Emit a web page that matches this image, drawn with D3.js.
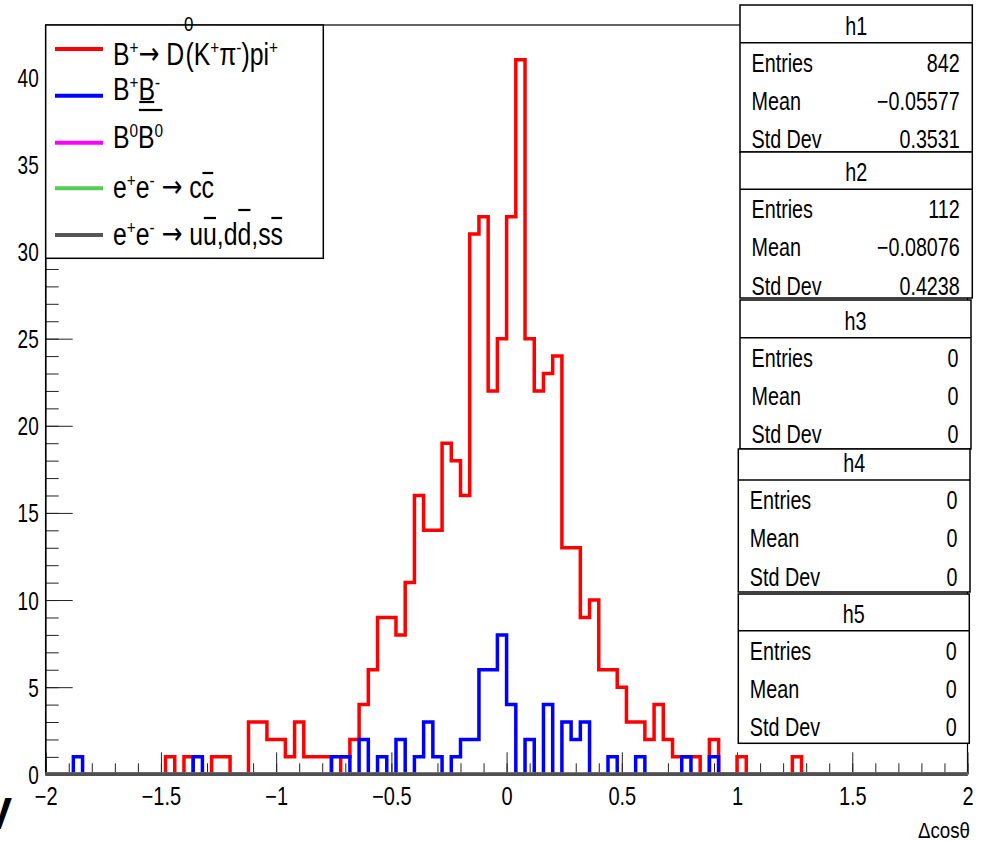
<!DOCTYPE html>
<html><head><meta charset="utf-8">
<script src="https://cdn.jsdelivr.net/npm/d3@7"></script>
<style>
html,body{margin:0;padding:0;background:#fff;}
text{font-family:"Liberation Sans",Arial,Helvetica,sans-serif;fill:#000;}
</style></head>
<body>
<svg id="c" width="985" height="841"></svg>
<script>
// ---------------- DATA ----------------
const xMin = -2, xMax = 2, nBins = 100;
const yMax = 43;
const xMajorTicks = [-2, -1.5, -1, -0.5, 0, 0.5, 1, 1.5, 2];
const xTickLabels = ["\u22122", "\u22121.5", "\u22121", "\u22120.5", "0", "0.5", "1", "1.5", "2"];
const yMajorTicks = [0, 5, 10, 15, 20, 25, 30, 35, 40];
const yTickLabels = ["0", "5", "10", "15", "20", "25", "30", "35", "40"];
const xTitle = "\u0394cos\u03b8";

// h1: B+ -> D0(K+pi-)pi+  (red)
const redCounts = [
  0,0,0,0,0,0,0,0,0,0,
  0,0,0,1,0,1,0,0,1,1,
  0,0,3,3,2,2,1,3,1,1,
  1,0,1,2,4,6,9,9,8,11,
  16,14,14,19,18,16,31,32,22,25,
  32,41,25,22,23,24,13,13,9,10,
  6,6,5,3,3,2,4,2,1,1,
  1,0,2,0,0,1,0,0,0,0,
  0,1,0,0,0,0,0,0,0,0,
  0,0,0,0,0,0,0,0,0,0
];
// h2: B+B- (blue)
const blueCounts = [
  0,0,0,1,0,0,0,0,0,0,
  0,0,0,0,0,0,1,0,0,0,
  0,0,0,0,0,0,0,0,0,0,
  0,1,1,0,2,0,1,0,2,0,
  1,3,1,0,1,2,2,6,6,8,
  4,0,2,0,4,0,3,2,3,0,
  0,1,0,0,1,0,0,0,0,1,
  0,0,1,0,0,0,0,0,0,0,
  0,0,0,0,0,0,0,0,0,0,
  0,0,0,0,0,0,0,0,0,0
];
// h3, h4, h5: empty
const magentaCounts = [
  0,0,0,0,0,0,0,0,0,0, 0,0,0,0,0,0,0,0,0,0, 0,0,0,0,0,0,0,0,0,0, 0,0,0,0,0,0,0,0,0,0, 0,0,0,0,0,0,0,0,0,0,
  0,0,0,0,0,0,0,0,0,0, 0,0,0,0,0,0,0,0,0,0, 0,0,0,0,0,0,0,0,0,0, 0,0,0,0,0,0,0,0,0,0, 0,0,0,0,0,0,0,0,0,0
];
const greenCounts = [
  0,0,0,0,0,0,0,0,0,0, 0,0,0,0,0,0,0,0,0,0, 0,0,0,0,0,0,0,0,0,0, 0,0,0,0,0,0,0,0,0,0, 0,0,0,0,0,0,0,0,0,0,
  0,0,0,0,0,0,0,0,0,0, 0,0,0,0,0,0,0,0,0,0, 0,0,0,0,0,0,0,0,0,0, 0,0,0,0,0,0,0,0,0,0, 0,0,0,0,0,0,0,0,0,0
];
const grayCounts = [
  0,0,0,0,0,0,0,0,0,0, 0,0,0,0,0,0,0,0,0,0, 0,0,0,0,0,0,0,0,0,0, 0,0,0,0,0,0,0,0,0,0, 0,0,0,0,0,0,0,0,0,0,
  0,0,0,0,0,0,0,0,0,0, 0,0,0,0,0,0,0,0,0,0, 0,0,0,0,0,0,0,0,0,0, 0,0,0,0,0,0,0,0,0,0, 0,0,0,0,0,0,0,0,0,0
];

const statNames   = ["h1", "h2", "h3", "h4", "h5"];
const statEntries = ["842", "112", "0", "0", "0"];
const statMeans   = ["\u22120.05577", "\u22120.08076", "0", "0", "0"];
const statStdDevs = ["0.3531", "0.4238", "0", "0", "0"];
const statLabels  = ["Entries", "Mean", "Std Dev"];

// ---------------- LAYOUT ----------------
const svg = d3.select("#c");
svg.append("rect").attr("width", 985).attr("height", 841).attr("fill", "#fff");

const x = d3.scaleLinear().domain([xMin, xMax]).range([45.7, 967.5]);
const y = d3.scaleLinear().domain([0, yMax]).range([774.3, 25]);
const binW = (xMax - xMin) / nBins;

function txt(parent, px, py, s, size, sx, anchor) {
  const g = parent.append("g").attr("transform", `translate(${px},${py}) scale(${sx},1)`);
  return g.append("text").attr("font-size", size).attr("text-anchor", anchor || "start").text(s);
}

// frame
svg.append("rect").attr("x", x(xMin)).attr("y", y(yMax))
  .attr("width", x(xMax) - x(xMin)).attr("height", y(0) - y(yMax))
  .attr("fill", "none").attr("stroke", "#000").attr("stroke-width", 1.2);

// ---- X axis ticks (inside) ----
const xMinorVals = d3.range(0, 41).map(i => xMin + i * 0.1);
const gxMinor = svg.append("g").attr("transform", `translate(0,${y(0)})`)
  .call(d3.axisBottom(x).tickValues(xMinorVals).tickSize(-11).tickFormat(""));
const gxMajor = svg.append("g").attr("transform", `translate(0,${y(0)})`)
  .call(d3.axisBottom(x).tickValues(xMajorTicks).tickSize(-22).tickFormat((d, i) => xTickLabels[i]));
[gxMinor, gxMajor].forEach(g => {
  g.select(".domain").remove();
  g.selectAll(".tick line").attr("stroke", "#222").attr("stroke-width", 1);
});
gxMajor.selectAll(".tick text")
  .attr("y", null).attr("dy", null)
  .attr("transform", "translate(0,31) scale(0.8,1)")
  .attr("font-size", 25).attr("fill", "#000")
  .attr("font-family", "Liberation Sans, Arial, sans-serif");

// ---- Y axis ticks (inside) ----
const yMinorVals = d3.range(0, 44);
const gyMinor = svg.append("g").attr("transform", `translate(${x(xMin)},0)`)
  .call(d3.axisLeft(y).tickValues(yMinorVals).tickSize(-13).tickFormat(""));
const gyMajor = svg.append("g").attr("transform", `translate(${x(xMin)},0)`)
  .call(d3.axisLeft(y).tickValues(yMajorTicks).tickSize(-27).tickFormat((d, i) => yTickLabels[i]));
[gyMinor, gyMajor].forEach(g => {
  g.select(".domain").remove();
  g.selectAll(".tick line").attr("stroke", "#222").attr("stroke-width", 1);
});
gyMajor.selectAll(".tick text")
  .attr("x", null).attr("dy", null)
  .attr("transform", "translate(-7,9) scale(0.76,1)")
  .attr("text-anchor", "end")
  .attr("font-size", 25).attr("fill", "#000")
  .attr("font-family", "Liberation Sans, Arial, sans-serif");

// left axis line
svg.append("line").attr("x1", x(xMin)).attr("x2", x(xMin)).attr("y1", y(yMax)).attr("y2", y(0))
  .attr("stroke", "#000").attr("stroke-width", 1.5);

// ---- histograms ----
function histPoints(counts) {
  const pts = [[xMin, 0]];
  counts.forEach((c, i) => pts.push([xMin + i * binW, c]));
  pts.push([xMax, counts[counts.length - 1]]);
  pts.push([xMax, 0]);
  return pts;
}
const stepLine = d3.line().x(d => x(d[0])).y(d => y(d[1])).curve(d3.curveStepAfter);
const series = [
  { counts: redCounts, color: "#ff0000" },
  { counts: blueCounts, color: "#0000ff" },
  { counts: magentaCounts, color: "#ff00ff" },
  { counts: greenCounts, color: "#55cc55" },
  { counts: grayCounts, color: "#505050" }
];
series.forEach(s => {
  svg.append("path").attr("d", stepLine(histPoints(s.counts)))
    .attr("fill", "none").attr("stroke", s.color).attr("stroke-width", 3.5)
    .attr("stroke-linejoin", "miter");
});

// ---- legend ----
const legX0 = x(xMin), legY0 = y(yMax), legX1 = 323.3, legY1 = 258.3;
svg.append("rect").attr("x", legX0).attr("y", legY0)
  .attr("width", legX1 - legX0).attr("height", legY1 - legY0)
  .attr("fill", "#fff").attr("stroke", "#000").attr("stroke-width", 1.5);

const ARW = "DejaVu Sans";
const legendEntries = [
  { color: "#ff0000", ly: 49, base: 65, parts: [
      { t: "B" }, { t: "+", sup: 1 }, { t: "\u2192", f: ARW }, { t: " D" }, { t: "0", sup: 1, up: 34, big: 1 },
      { t: "(K", dx: -10 }, { t: "+", sup: 1 }, { t: "\u03c0" }, { t: "-", sup: 1 }, { t: ")pi" }, { t: "+", sup: 1 } ] },
  { color: "#0000ff", ly: 95.7, base: 100, parts: [
      { t: "B" }, { t: "+", sup: 1 }, { t: "B", bar: 2 }, { t: "-", sup: 1 } ] },
  { color: "#ff00ff", ly: 142.7, base: 148, parts: [
      { t: "B" }, { t: "0", sup: 1 }, { t: "B", bar: -38, grp: 1 }, { t: "0", sup: 1, bar: -38, grp: 1 } ] },
  { color: "#55cc55", ly: 188.3, base: 198, parts: [
      { t: "e" }, { t: "+", sup: 1 }, { t: "e" }, { t: "-", sup: 1 }, { t: " " }, { t: "\u2192", f: ARW }, { t: " c" }, { t: "c", bar: -25 } ] },
  { color: "#555555", ly: 235, base: 245, parts: [
      { t: "e" }, { t: "+", sup: 1 }, { t: "e" }, { t: "-", sup: 1 }, { t: " " }, { t: "\u2192", f: ARW }, { t: " u" }, { t: "u", bar: -27 },
      { t: ",d" }, { t: "d", bar: -35 }, { t: ",s" }, { t: "s", bar: -27 } ] }
];
const legSize = 31, legSx = 0.8;
legendEntries.forEach(e => {
  svg.append("line").attr("x1", 55).attr("x2", 103).attr("y1", e.ly).attr("y2", e.ly)
    .attr("stroke", e.color).attr("stroke-width", 4);
  const g = svg.append("g").attr("transform", `translate(113,${e.base}) scale(${legSx},1)`);
  const t = g.append("text").attr("font-size", legSize);
  let cur = 0;
  const nodes = [];
  e.parts.forEach(p => {
    const sh = p.sup ? -(p.up || 11) : (p.f ? -1 : 0);
    const ts = t.append("tspan").text(p.t).attr("dy", sh - cur);
    cur = sh;
    if (p.sup) ts.attr("font-size", legSize * (p.big ? 0.68 : 0.62));
    if (p.f) ts.attr("font-family", p.f).attr("font-size", legSize);
    if (p.dx) ts.attr("dx", p.dx);
    nodes.push({ p, node: ts.node() });
  });
  const groups = {};
  nodes.forEach((o, i) => {
    if (o.p.bar === undefined) return;
    const n = o.node.getNumberOfChars();
    const x0 = o.node.getStartPositionOfChar(0).x;
    const x1 = o.node.getEndPositionOfChar(n - 1).x;
    const key = o.p.grp ? "g" + o.p.grp : "i" + i;
    if (!groups[key]) groups[key] = { x0, x1, yb: o.p.bar };
    else { groups[key].x0 = Math.min(groups[key].x0, x0); groups[key].x1 = Math.max(groups[key].x1, x1); }
  });
  Object.values(groups).forEach(b => {
    g.append("line").attr("x1", b.x0 + 1).attr("x2", b.x1 - 1).attr("y1", b.yb).attr("y2", b.yb)
      .attr("stroke", "#000").attr("stroke-width", 2.2);
  });
});

// ---- stat boxes ----
const boxTop   = [5, 152, 300, 449, 594];
const boxSep   = [42.7, 189.3, 337.7, 480, 630.7];
const boxBot   = [152, 298, 449, 592, 743.3];
const boxLeft  = [740, 740, 740, 738.3, 738.3];
const boxRight = [972.3, 972.3, 971, 970, 969.3];
const statSize = 25, statSx = 0.79;
statNames.forEach((nm, i) => {
  const g = svg.append("g");
  g.append("rect").attr("x", boxLeft[i]).attr("y", boxTop[i])
    .attr("width", boxRight[i] - boxLeft[i]).attr("height", boxBot[i] - boxTop[i])
    .attr("fill", "#fff").attr("stroke", "#000").attr("stroke-width", 1.5);
  g.append("line").attr("x1", boxLeft[i]).attr("x2", boxRight[i]).attr("y1", boxSep[i]).attr("y2", boxSep[i])
    .attr("stroke", "#000").attr("stroke-width", 1.5);
  txt(g, (boxLeft[i] + boxRight[i]) / 2, boxSep[i] - 8, nm, statSize, statSx, "middle");
  const vals = [statEntries[i], statMeans[i], statStdDevs[i]];
  const offs = [29, 67, 105.5];
  statLabels.forEach((lb, k) => {
    txt(g, boxLeft[i] + 11.5, boxSep[i] + offs[k], lb, statSize, statSx, "start");
    txt(g, boxRight[i] - 12.5, boxSep[i] + offs[k], vals[k], statSize, statSx, "end");
  });
});

// ---- axis title ----
txt(svg, 970, 838, xTitle, 22, 0.85, "end");

// cropped glyph at bottom-left edge
svg.append("text").attr("x", 12).attr("y", 829).attr("font-size", 44).attr("font-weight", "bold")
  .attr("text-anchor", "end").text("V");
</script>
</body></html>
